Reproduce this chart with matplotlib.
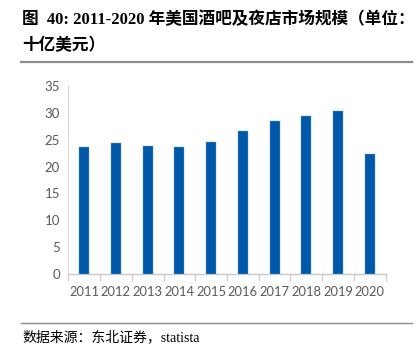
import matplotlib
matplotlib.use("Agg")
import matplotlib.pyplot as plt
from matplotlib.lines import Line2D
import numpy as np

years = ["2011", "2012", "2013", "2014", "2015", "2016", "2017", "2018", "2019", "2020"]
values = [23.7, 24.3, 23.8, 23.6, 24.5, 26.7, 28.4, 29.5, 30.4, 22.3]
yticks = [0, 5, 10, 15, 20, 25, 30, 35]

title_l1 = "图  40: 2011-2020 年美国酒吧及夜店市场规模（单位："
title_l2 = "十亿美元）"
source = "数据来源：东北证券，statista"

W, H = 417, 349
fig = plt.figure(figsize=(W / 100, H / 100), dpi=100)
fig.patch.set_facecolor("white")

def fx(px):
    return px / W

def fy(py):
    return 1 - py / H

ax = fig.add_axes([fx(68.3), fy(274), fx(385.7) - fx(68.3), fy(86) - fy(274)])
x = np.arange(len(years))
ax.bar(x, values, width=0.32, color="#0058A8", edgecolor="#6f9fd0", linewidth=0.3, zorder=3)
ax.set_xlim(-0.5, len(years) - 0.5)
ax.set_ylim(0, 35)
ax.set_yticks(yticks)
ax.set_yticklabels([str(t) for t in yticks], fontfamily="Lato", fontsize=9.5, color="#595959")
ax.set_xticks(x)
ax.set_xticklabels(years, fontfamily="Lato", fontsize=9.3, color="#595959")
ax.tick_params(axis="y", length=0, pad=6)
ax.tick_params(axis="x", length=0, pad=9)
# category boundary ticks
ax.set_xticks(np.arange(-0.5, len(years) + 0.5, 1), minor=True)
ax.tick_params(axis="x", which="minor", length=5, color="#d0d0d0", width=1, direction="out")
for s in ["top", "right"]:
    ax.spines[s].set_visible(False)
ax.spines["left"].set_color("#d9d9d9")
ax.spines["bottom"].set_color("#c8c8c8")
ax.spines["bottom"].set_linewidth(1.0)

fam = ["Liberation Serif", "Noto Sans CJK SC"]
fig.text(fx(22), fy(20), title_l1, fontsize=12, fontweight="bold", family=fam, va="center", ha="left", color="black")
fig.text(fx(22), fy(46), title_l2, fontsize=12, fontweight="bold", family=fam, va="center", ha="left", color="black")
fig.add_artist(Line2D([fx(21), fx(412)], [fy(62), fy(62)], color="#8c8c8c", linewidth=1.6))
fig.add_artist(Line2D([fx(21), fx(412)], [fy(323), fy(323)], color="#8c8c8c", linewidth=1.0))
fig.text(fx(22), fy(337), source, fontsize=10, family=fam, va="center", ha="left", color="black")

fig.savefig("out.png", dpi=100)
